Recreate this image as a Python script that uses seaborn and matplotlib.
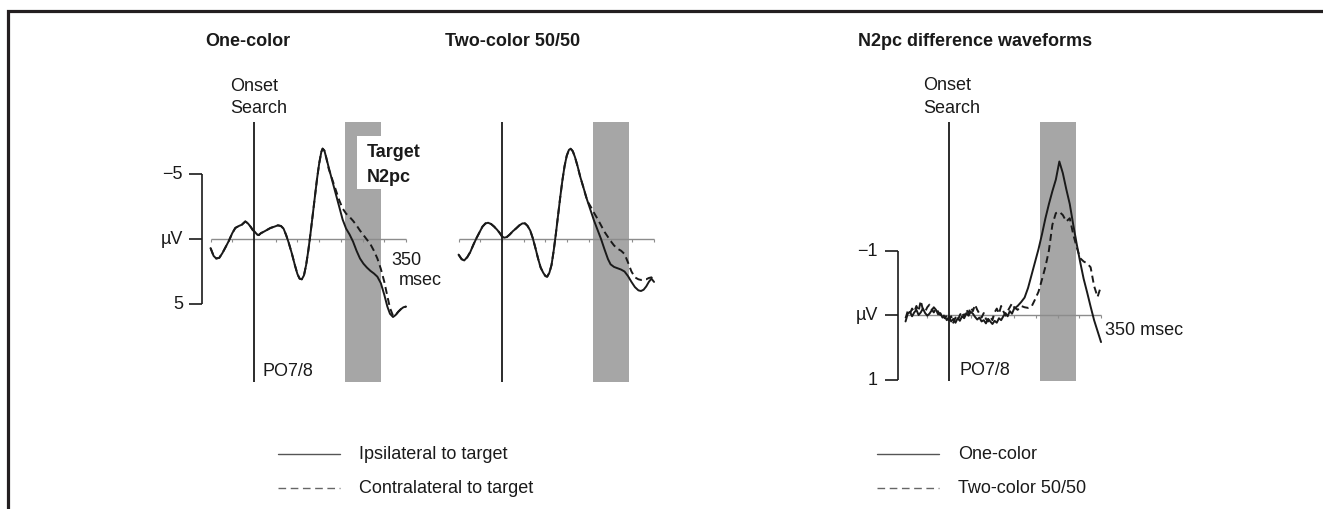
import numpy as np
import pandas as pd
import matplotlib
matplotlib.use("Agg")
import matplotlib.pyplot as plt
import seaborn as sns

# ---------------------------------------------------------------- data
# Grand-average ERPs at PO7/8 (µV, negative plotted upward), time in ms
one_t = [-100, -93, -87, -80, -73, -65, -58, -50, -43, -35, -28, -20, -14, -8, -3,
         2, 7, 11, 16, 22, 30, 38, 47, 55, 62, 68, 74, 80, 87, 94, 100, 105, 110,
         115, 120, 125, 130, 135, 140, 145, 150, 155, 158, 162, 166, 172, 180, 188,
         196, 204, 212, 220, 228, 236, 244, 252, 260, 268, 276, 284, 292, 300, 307,
         313, 320, 326, 332, 338, 344, 350]
one_ipsi = [0.7, 1.3, 1.5, 1.45, 1.1, 0.6, 0.15, -0.45, -0.85, -1.0, -1.1, -1.35, -1.2,
            -0.95, -0.7, -0.55, -0.35, -0.3, -0.45, -0.55, -0.7, -0.85, -0.95, -1.05,
            -1.0, -0.8, -0.3, 0.3, 1.1, 2.0, 2.7, 3.05, 3.1, 2.8, 2.0, 0.9, -0.4, -1.8,
            -3.2, -4.6, -5.8, -6.7, -6.95, -6.8, -6.3, -5.5, -4.5, -3.5, -2.5, -1.5,
            -0.8, -0.35, 0.2, 0.9, 1.5, 1.9, 2.2, 2.45, 2.65, 2.9, 3.4, 4.3, 5.2, 5.75,
            6.0, 5.85, 5.6, 5.4, 5.25, 5.2]
one_contra = [0.7, 1.3, 1.5, 1.45, 1.1, 0.6, 0.15, -0.45, -0.85, -1.0, -1.1, -1.35, -1.2,
              -0.95, -0.7, -0.55, -0.35, -0.3, -0.45, -0.55, -0.7, -0.85, -0.95, -1.05,
              -1.0, -0.8, -0.3, 0.3, 1.1, 2.0, 2.7, 3.05, 3.1, 2.8, 2.0, 0.9, -0.4, -1.8,
              -3.2, -4.6, -5.8, -6.7, -6.95, -6.8, -6.3, -5.4, -4.6, -3.8, -3.0, -2.35,
              -1.95, -1.7, -1.4, -1.05, -0.65, -0.3, 0.05, 0.4, 0.9, 1.5, 2.3, 3.3, 4.4,
              5.3, 5.9, 5.85, 5.6, 5.4, 5.25, 5.2]

two_t = [-100, -93, -87, -80, -73, -66, -59, -52, -45, -38, -32, -25, -18, -11, -5, 0,
         5, 11, 18, 25, 32, 40, 47, 53, 59, 65, 71, 77, 83, 89, 95, 100, 104, 109, 114,
         119, 124, 129, 134, 139, 144, 149, 154, 158, 163, 168, 174, 180, 188, 196,
         204, 212, 220, 228, 236, 244, 250, 258, 266, 274, 282, 290, 298, 306, 314,
         320, 326, 332, 338, 344, 350]
two_ipsi = [1.2, 1.55, 1.65, 1.4, 1.0, 0.45, -0.05, -0.5, -0.95, -1.2, -1.25, -1.15,
            -0.95, -0.7, -0.45, -0.2, -0.1, -0.15, -0.35, -0.6, -0.8, -1.05, -1.2, -1.2,
            -1.0, -0.65, -0.05, 0.7, 1.5, 2.2, 2.6, 2.85, 2.9, 2.6, 2.0, 0.9, -0.4, -1.8,
            -3.2, -4.5, -5.6, -6.4, -6.85, -6.95, -6.75, -6.3, -5.6, -4.8, -3.9, -3.0,
            -2.2, -1.4, -0.7, 0.0, 0.8, 1.55, 1.95, 2.15, 2.25, 2.35, 2.5, 2.85, 3.3,
            3.7, 3.95, 4.0, 3.9, 3.65, 3.3, 3.05, 3.3]
two_contra = [1.2, 1.55, 1.65, 1.4, 1.0, 0.45, -0.05, -0.5, -0.95, -1.2, -1.25, -1.15,
              -0.95, -0.7, -0.45, -0.2, -0.1, -0.15, -0.35, -0.6, -0.8, -1.05, -1.2, -1.2,
              -1.0, -0.65, -0.05, 0.7, 1.5, 2.2, 2.6, 2.85, 2.9, 2.6, 2.0, 0.9, -0.4, -1.8,
              -3.2, -4.5, -5.6, -6.4, -6.85, -6.95, -6.75, -6.3, -5.6, -4.8, -3.9, -2.95,
              -2.5, -2.0, -1.55, -1.05, -0.55, -0.15, 0.15, 0.5, 0.75, 0.9, 1.15, 1.8,
              2.5, 2.95, 3.1, 3.15, 3.1, 3.1, 3.0, 2.95, 3.3]

# Contralateral-minus-ipsilateral difference waves (µV)
diff_t = [-100, -95, -90, -85, -80, -75, -70, -65, -60, -55, -50, -45, -40, -35, -30,
          -25, -20, -15, -10, -5, 0, 5, 10, 15, 20, 25, 30, 35, 40, 45, 50, 55, 60,
          65, 70, 75, 80, 85, 90, 95, 100, 105, 110, 115, 120, 125, 130, 135, 140,
          145, 150, 158, 166, 174, 182, 190, 198, 206, 214, 222, 230, 238, 246, 254,
          262, 270, 278, 286, 294, 302, 310, 318, 326, 334, 342, 350]
diff_one = [0.10, -0.02, -0.05, 0.02, -0.04, -0.08, 0.0, -0.04, -0.10, -0.03, 0.01,
            -0.02, -0.07, -0.12, -0.08, -0.01, -0.03, 0.04, 0.02, 0.08, 0.03, 0.10,
            0.06, 0.12, 0.05, 0.09, 0.02, 0.05, -0.03, 0.01, -0.05, -0.02, 0.03, 0.07,
            0.04, 0.10, 0.08, 0.13, 0.06, 0.10, 0.14, 0.09, 0.12, 0.05, 0.08, 0.02,
            -0.03, 0.02, -0.06, -0.02, -0.10, -0.14, -0.20, -0.27, -0.42, -0.62,
            -0.82, -1.02, -1.25, -1.5, -1.72, -1.92, -2.1, -2.38, -2.2, -1.95, -1.72,
            -1.4, -1.1, -0.82, -0.56, -0.35, -0.13, 0.08, 0.25, 0.42]
diff_two = [0.05, -0.06, -0.02, -0.10, -0.05, -0.14, -0.06, -0.22, -0.08, -0.05,
            -0.12, -0.16, -0.09, -0.04, -0.10, -0.05, 0.00, -0.04, 0.05, 0.01, 0.08,
            0.02, 0.12, 0.04, 0.09, 0.0, -0.05, 0.03, -0.08, -0.03, -0.12, -0.06,
            -0.16, -0.08, -0.02, 0.04, -0.03, 0.06, 0.10, 0.03, 0.08, -0.04, -0.10,
            -0.02, -0.14, -0.06, 0.01, -0.06, -0.12, -0.18, -0.12, -0.08, -0.14,
            -0.12, -0.11, -0.13, -0.24, -0.36, -0.55, -0.75, -1.0, -1.4, -1.58, -1.6,
            -1.55, -1.45, -1.5, -1.25, -1.05, -0.88, -0.83, -0.8, -0.74, -0.45, -0.28,
            -0.45]

n2pc_window = (210, 293)          # ms, shaded measurement window
erp_ticks = ["\u22125", "\u00b5V", "5"]
erp_tick_vals = [-5, 0, 5]
diff_ticks = ["\u22121", "\u00b5V", "1"]
diff_tick_vals = [-1, 0, 1]
panel_titles = ["One-color", "Two-color 50/50", "N2pc difference waveforms"]
erp_legend = ["Ipsilateral to target", "Contralateral to target"]
diff_legend = ["One-color", "Two-color 50/50"]

# ---------------------------------------------------------------- style
W, H = 1323, 510
sns.set_theme(style="white")
plt.rcParams["font.family"] = ["Liberation Sans", "DejaVu Sans"]
INK = "#1a1a1a"
BAND = "#a6a6a6"
AXIS_GREY = "#8c8c8c"
FS = 13
PX_PER_MS = 0.4344

fig = plt.figure(figsize=(W / 100, H / 100), dpi=100)

# figure-wide layer in pixel units for frame, titles and keys
bg = fig.add_axes([0, 0, 1, 1])
bg.set_xlim(0, W)
bg.set_ylim(H, 0)
bg.axis("off")


def panel(onset_px, zero_px, px_per_uv, xlim, ylim):
    left = onset_px + xlim[0] * PX_PER_MS
    width = (xlim[1] - xlim[0]) * PX_PER_MS
    top = zero_px + ylim[0] * px_per_uv
    height = (ylim[1] - ylim[0]) * px_per_uv
    ax = fig.add_axes([left / W, 1 - (top + height) / H, width / W, height / H])
    ax.set_xlim(*xlim)
    ax.set_ylim(ylim[1], ylim[0])   # negative voltage up
    ax.axis("off")
    return ax


def scaffold(ax, v_top, v_bot, tick_len):
    ax.fill_between(list(n2pc_window), v_top, v_bot, color=BAND, lw=0, zorder=1)
    ax.vlines(0, v_top, v_bot, color=INK, lw=1.3, zorder=3)
    ax.hlines(0, -100, 350, color=AXIS_GREY, lw=1.0, zorder=2)
    ax.vlines(np.arange(-100, 351, 50), 0, tick_len, color=AXIS_GREY, lw=0.8, zorder=2)


def bracket(ax, x_bar, x_tick, x_lab, vals, labels):
    ax.vlines(x_bar, vals[0], vals[-1], color=INK, lw=1.2)
    ax.hlines(vals, x_tick, x_bar, color=INK, lw=1.2)
    for v, s in zip(vals, labels):
        ax.text(x_lab, v, s, ha="right", va="center", fontsize=FS, color=INK)


def waves(ax, t, a, b, names):
    df = pd.DataFrame({
        "t": list(t) + list(t),
        "uv": list(a) + list(b),
        "cond": [names[0]] * len(t) + [names[1]] * len(t),
    })
    sns.lineplot(data=df, x="t", y="uv", style="cond", style_order=names[::-1],
                 dashes={names[0]: "", names[1]: (3.6, 2.2)}, color=INK,
                 linewidth=1.4, estimator=None, sort=False, legend=False, ax=ax,
                 zorder=4)
    ax.set_xlabel("")
    ax.set_ylabel("")
    ax.set_xlim(ax.get_xlim())


# ---- one-color ERPs
ax1 = panel(254, 240, 13.0, (-175, 400), (-13.5, 12.5))
scaffold(ax1, -9.0, 11.0, 0.22)
ax1.fill_between([237, 293], -7.9, -3.85, color="white", lw=0, zorder=1.5)
bracket(ax1, -120.4, -149.6, -163.4, erp_tick_vals, erp_ticks)
waves(ax1, one_t, one_ipsi, one_contra, ["ipsi", "contra"])
ax1.text(-55.2, -11.8, "Onset", ha="left", va="center", fontsize=FS, color=INK)
ax1.text(-55.2, -10.1, "Search", ha="left", va="center", fontsize=FS, color=INK)
ax1.text(260, -6.7, "Target", ha="left", va="center", fontsize=FS,
         fontweight="bold", color=INK, zorder=5)
ax1.text(260, -4.77, "N2pc", ha="left", va="center", fontsize=FS,
         fontweight="bold", color=INK, zorder=5)
ax1.text(351, 1.54, "350", ha="center", va="center", fontsize=FS, color=INK)
ax1.text(382, 3.08, "msec", ha="center", va="center", fontsize=FS, color=INK)
ax1.text(20.7, 10.15, "PO7/8", ha="left", va="center", fontsize=FS, color=INK)
ax1.set_ylim(12.5, -13.5)

# ---- two-color ERPs
ax2 = panel(502, 240, 13.0, (-120, 370), (-13.5, 12.5))
scaffold(ax2, -9.0, 11.0, 0.22)
waves(ax2, two_t, two_ipsi, two_contra, ["ipsi", "contra"])
ax2.set_ylim(12.5, -13.5)

# ---- difference waves
ax3 = panel(949, 316, 64.5, (-175, 400), (-3.9, 1.3))
scaffold(ax3, -3.0, 1.02, 0.045)
bracket(ax3, -116.7, -147.0, -163.4, diff_tick_vals, diff_ticks)
waves(ax3, diff_t, diff_one, diff_two, ["one", "two"])
ax3.text(-59.0, -3.57, "Onset", ha="left", va="center", fontsize=FS, color=INK)
ax3.text(-59.0, -3.22, "Search", ha="left", va="center", fontsize=FS, color=INK)
ax3.text(23.7, 0.85, "PO7/8", ha="left", va="center", fontsize=FS, color=INK)
ax3.text(359, 0.23, "350 msec", ha="left", va="center", fontsize=FS, color=INK)
ax3.set_ylim(1.3, -3.9)

# ---- frame, titles, keys
bg.plot([8, 8, W], [H, 12, 12], color="#231f20", lw=2.3, solid_joinstyle="miter",
        solid_capstyle="butt")
for x, s in zip([205, 445, 858], panel_titles):
    bg.text(x, 41, s, ha="left", va="center", fontsize=FS, fontweight="bold", color=INK)

for x0, labels in [(278, erp_legend), (877, diff_legend)]:
    bg.plot([x0, x0 + 62], [455, 455], color="#555555", lw=1.0)
    bg.plot([x0, x0 + 62], [489, 489], color="#666666", lw=1.0, linestyle=(0, (5.5, 3.3)))
    bg.text(x0 + 81, 455, labels[0], ha="left", va="center", fontsize=FS, color=INK)
    bg.text(x0 + 81, 489, labels[1], ha="left", va="center", fontsize=FS, color=INK)

fig.savefig("out.png", dpi=100, facecolor="white")
